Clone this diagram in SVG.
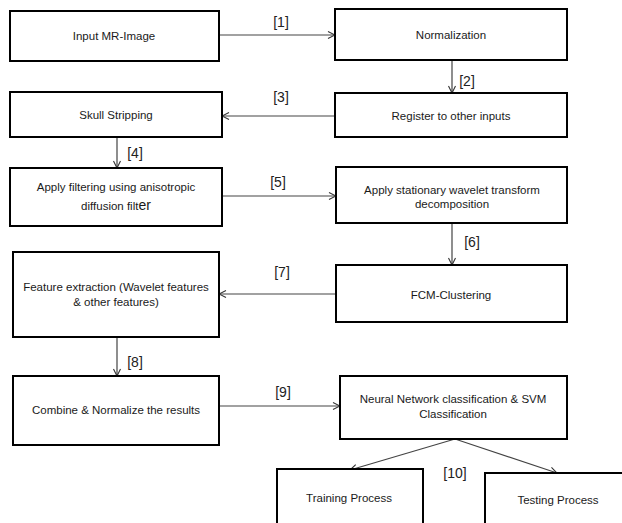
<svg xmlns="http://www.w3.org/2000/svg" width="622" height="523" viewBox="0 0 622 523">
<defs>
<marker id="arr" markerWidth="10" markerHeight="10" refX="9" refY="5" orient="auto" markerUnits="userSpaceOnUse">
<polyline points="2,1.5 9,5 2,8.5" fill="none" stroke="#333" stroke-width="1.1"/>
</marker>
<style>
.box{fill:#fff;stroke:#000;stroke-width:2}
.t{font-family:"Liberation Sans",Arial,sans-serif;font-size:11.5px;fill:#1a1a1a;text-anchor:middle}
.lb{font-family:"Liberation Sans",Arial,sans-serif;font-size:14px;fill:#222;text-anchor:middle}
.c{stroke:#444;stroke-width:1.2;fill:none;marker-end:url(#arr)}
</style>
</defs>
<rect width="622" height="523" fill="#fff"/>
<g id="connectors">
<line class="c" x1="219" y1="35" x2="335" y2="35"/>
<line class="c" x1="452" y1="60" x2="452" y2="93"/>
<line class="c" x1="335" y1="116" x2="222" y2="116"/>
<line class="c" x1="117" y1="137" x2="117" y2="168"/>
<line class="c" x1="222" y1="196" x2="336" y2="196"/>
<line class="c" x1="452" y1="223" x2="452" y2="265"/>
<line class="c" x1="336" y1="294" x2="219" y2="294"/>
<line class="c" x1="117" y1="337" x2="117" y2="376"/>
<line class="c" x1="219" y1="406" x2="340" y2="406"/>
<line class="c" x1="455" y1="439" x2="350" y2="470"/>
<line class="c" x1="455" y1="439" x2="557" y2="473"/>
<text class="lb" x="281" y="27">[1]</text>
<text class="lb" x="467" y="86">[2]</text>
<text class="lb" x="281" y="102">[3]</text>
<text class="lb" x="135" y="158">[4]</text>
<text class="lb" x="278" y="187">[5]</text>
<text class="lb" x="472" y="247">[6]</text>
<text class="lb" x="282" y="277">[7]</text>
<text class="lb" x="135" y="367">[8]</text>
<text class="lb" x="283" y="397">[9]</text>
<text class="lb" x="455" y="478">[10]</text>
</g>
<g id="n1"><rect class="box" x="10" y="11" width="209" height="50"/><text class="t" x="114" y="40">Input MR-Image</text></g>
<g id="n2"><rect class="box" x="335" y="9" width="232" height="51"/><text class="t" x="451" y="39">Normalization</text></g>
<g id="n3"><rect class="box" x="335" y="93" width="232" height="44"/><text class="t" x="451" y="120">Register to other inputs</text></g>
<g id="n4"><rect class="box" x="10" y="92" width="212" height="45"/><text class="t" x="116" y="119">Skull Stripping</text></g>
<g id="n5"><rect class="box" x="10" y="168" width="212" height="58"/><text class="t" x="116" y="191">Apply filtering  using anisotropic</text><text class="t" x="116" y="210">diffusion  filt<tspan font-size="14">er</tspan></text></g>
<g id="n6"><rect class="box" x="336" y="167" width="231" height="56"/><text class="t" x="452" y="194">Apply stationary wavelet transform</text><text class="t" x="452" y="208">decomposition</text></g>
<g id="n7"><rect class="box" x="336" y="265" width="231" height="57"/><text class="t" x="451" y="299">FCM-Clustering</text></g>
<g id="n8"><rect class="box" x="13" y="252" width="206" height="85"/><text class="t" x="116" y="291">Feature  extraction  (Wavelet features</text><text class="t" x="116" y="306">&amp; other  features)</text></g>
<g id="n9"><rect class="box" x="13" y="376" width="206" height="69"/><text class="t" x="116" y="414">Combine &amp; Normalize  the results</text></g>
<g id="n10"><rect class="box" x="340" y="376" width="227" height="63"/><text class="t" x="453" y="403">Neural  Network  classification  &amp; SVM</text><text class="t" x="453" y="418">Classification</text></g>
<g id="n11"><rect class="box" x="277" y="469" width="146" height="70"/><text class="t" x="349" y="502">Training  Process</text></g>
<g id="n12"><rect class="box" x="485" y="473" width="150" height="70"/><text class="t" x="558" y="504">Testing  Process</text></g>
</svg>
